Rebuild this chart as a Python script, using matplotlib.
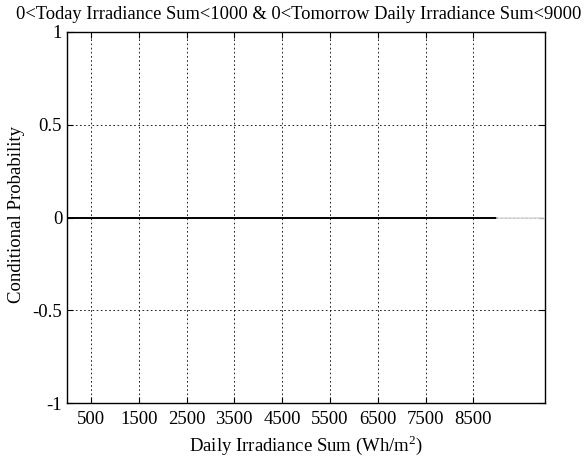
import matplotlib
matplotlib.use("Agg")
import matplotlib.pyplot as plt

plt.rcParams['font.family'] = ['Liberation Serif', 'DejaVu Serif']
plt.rcParams['mathtext.fontset'] = 'custom'
plt.rcParams['mathtext.rm'] = 'Liberation Serif'

# Bin centres of tomorrow's daily irradiance sum and the conditional probability in each
bin_centres = [500, 1500, 2500, 3500, 4500, 5500, 6500, 7500, 8500]
cond_prob = [0, 0, 0, 0, 0, 0, 0, 0, 0]
tick_labels = ['500', '1500', '2500', '3500', '4500', '5500', '6500', '7500', '8500']
y_ticks = [-1, -0.5, 0, 0.5, 1]
y_tick_labels = ['-1', '-0.5', '0', '0.5', '1']
bin_width = 1000

fig = plt.figure(figsize=(5.88, 4.59), dpi=100)
ax = fig.add_axes([67/588, 1-403/459, (545-67)/588, (403-32)/459])

# zero-height bars: their outline runs along the baseline across all bins
ax.bar(bin_centres, cond_prob, width=bin_width, color='none',
       edgecolor='black', linewidth=1.2, zorder=3)
ax.plot([bin_centres[0] - bin_width/2, bin_centres[-1] + bin_width/2], [0, 0],
        color='black', lw=1.2, zorder=3)
# faint baseline over the remaining axis range
ax.plot([bin_centres[-1] + bin_width/2, 10000], [0, 0], color='#dcdcdc', lw=1.2, zorder=3)

ax.set_xlim(0, 10000)
ax.set_ylim(-1, 1)
ax.set_xticks(bin_centres)
ax.set_xticklabels(tick_labels)
ax.set_yticks(y_ticks)
ax.set_yticklabels(y_tick_labels)

ax.grid(True, color='black', linestyle=(0, (2, 3)), linewidth=0.6)
ax.tick_params(direction='in', top=True, right=True, length=4, width=0.8,
               labelsize=13.5)
ax.tick_params(axis='x', pad=5.5)
ax.tick_params(axis='y', pad=3.5)
for s in ax.spines.values():
    s.set_linewidth(1.0)

ax.set_xlabel('Daily Irradiance Sum (Wh/m$^2$)', fontsize=13.5, labelpad=4)
ax.set_ylabel('Conditional Probability', fontsize=13.5)
ax.yaxis.set_label_coords(-0.088, 0.509)

fig.text(299/588, 1 - 19/459,
         '0<Today Irradiance Sum<1000 & 0<Tomorrow Daily Irradiance Sum<9000',
         fontsize=13.3, ha='center', va='baseline')

fig.savefig('out.png', dpi=100)
